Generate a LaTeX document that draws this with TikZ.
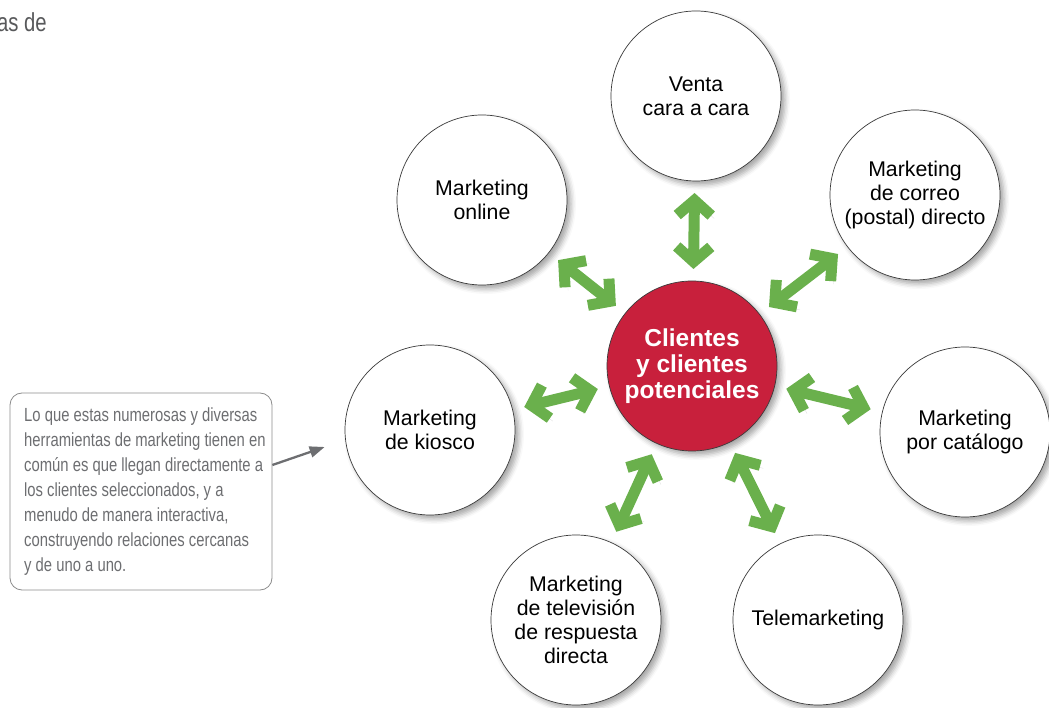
\documentclass[tikz,border=0pt]{standalone}
\usepackage{fontspec}
\setmainfont{Liberation Sans}
\newfontfamily\condfont{Liberation Sans}[FakeStretch=0.78]
\usetikzlibrary{arrows.meta, calc, shadows.blur}
\definecolor{linkgreen}{HTML}{6AB04C}
\definecolor{clientred}{HTML}{C8203C}
\definecolor{notegray}{HTML}{6D6E71}
\definecolor{noteborder}{HTML}{8C8C8C}
\definecolor{bubbleborder}{HTML}{3A3A3A}
\definecolor{headgray}{HTML}{58595B}

\begin{document}
\begin{tikzpicture}[
    x=1pt, y=1pt,
    linktip/.tip={Straight Barb[length=15pt, width=34pt]},
    bubble/.style={circle, draw=bubbleborder, line width=0.7pt, fill=white,
        minimum size=170pt, inner sep=0pt, align=center,
        font=\fontsize{21.3}{24}\selectfont,
        blur shadow={shadow xshift=4pt, shadow yshift=-4pt,
            shadow blur radius=5pt, shadow opacity=35}},
    hub/.style={bubble, fill=clientred, text=white,
        font=\fontsize{24.5}{26}\selectfont\bfseries},
    noteframe/.style={draw=noteborder, line width=0.8pt, rounded corners=12pt,
        fill=white, minimum width=262pt, minimum height=197pt},
    note/.style={align=left, inner sep=0pt, text=notegray,
        font=\condfont\fontsize{19}{25}\selectfont},
    link/.style={linkgreen, line width=11pt, linktip-linktip,
        preaction={draw=black, opacity=0.12,
            transform canvas={xshift=3pt, yshift=-3pt}}},
    noteline/.style={notegray, line width=2.3pt,
        -{Triangle[length=15pt, width=11pt]}},
]
\useasboundingbox (0,0) rectangle (1049,707);

% === Circles ===
\node[hub] (clientes) at (692,341) {Clientes\\y clientes\\potenciales};
\node[bubble] (venta) at (696,611) {Venta\\cara a cara};
\node[bubble] (online) at (482,507) {Marketing\\online};
\node[bubble] (correo) at (915,512) {Marketing\\de correo\\(postal) directo};
\node[bubble] (kiosco) at (430,277) {Marketing\\de kiosco};
\node[bubble] (catalogo) at (965,275) {Marketing\\por catálogo};
\node[bubble] (tv) at (576,87) {Marketing\\de televisión\\de respuesta\\directa};
\node[bubble] (tele) at (818,87) {Telemarketing};

% === Two-way links ===
\foreach \outer in {venta, online, correo, kiosco, catalogo, tv, tele}
    \draw[link] ($(clientes)!97pt!(\outer)$) -- ($(\outer)!97pt!(clientes)$);

% === Note ===
\node[noteframe] (notebox) at (141,215.5) {};
\node[note, anchor=west] (callout) at (24,215.5)
    {Lo que estas numerosas y diversas\\
     herramientas de marketing tienen en\\
     común es que llegan directamente a\\
     los clientes seleccionados, y a\\
     menudo de manera interactiva,\\
     construyendo relaciones cercanas\\
     y de uno a uno.};
\draw[noteline] ([yshift=26.5pt]notebox.east) -- ([xshift=-20pt, yshift=-17pt]kiosco.west);

% === Heading ===
\node[anchor=base east, inner sep=0pt, text=headgray,
      font=\condfont\fontsize{26}{30}\selectfont] (heading) at (47,675) {as de};

\end{tikzpicture}
\end{document}
